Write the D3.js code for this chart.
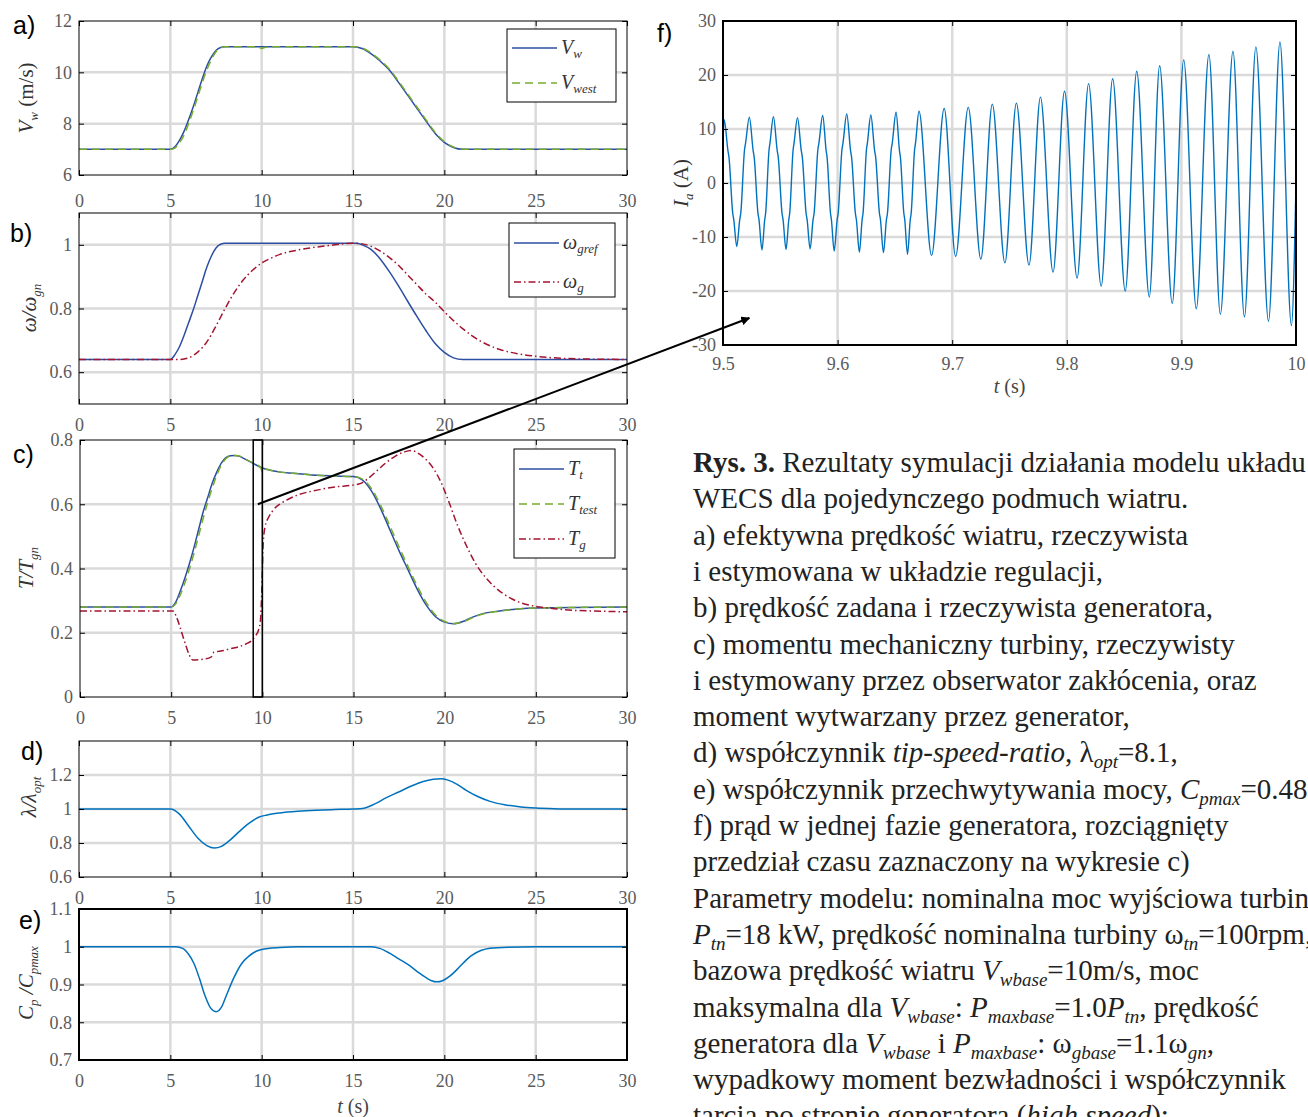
<!DOCTYPE html>
<html>
<head>
<meta charset="utf-8">
<script src="https://d3js.org/d3.v7.min.js"></script>
<style>
  body { margin: 0; background: #fff; }
  svg { display: block; }
</style>
</head>
<body>
<div id="chart"></div>
<script>
// ---- data ----
var timeTicks = [0, 5, 10, 15, 20, 25, 30];
var windTicks = [6, 8, 10, 12];
var speedTicks = [0.6, 0.8, 1];
var torqueTicks = [0, 0.2, 0.4, 0.6, 0.8];
var tsrTicks = [0.6, 0.8, 1, 1.2];
var cpTicks = [0.7, 0.8, 0.9, 1, 1.1];
var zoomTimeTicks = [9.5, 9.6, 9.7, 9.8, 9.9, 10];
var currentTicks = [-30, -20, -10, 0, 10, 20, 30];

// a) wind speed [t, m/s]
var windReal = [[0,7],[5,7],[5.25,7.1],[5.5,7.35],[5.75,7.7],[6,8.15],[6.25,8.65],[6.5,9.2],[6.75,9.75],[7,10.25],[7.25,10.6],[7.5,10.85],[7.75,10.97],[8,11],[15,11],[15.5,10.93],[16,10.72],[16.5,10.43],[17,10.08],[17.5,9.6],[18,9.1],[18.5,8.6],[19,8.1],[19.5,7.62],[20,7.27],[20.5,7.07],[21,7],[30,7]];
var windEst = [[0,7],[5,7],[5.25,7.05],[5.5,7.25],[5.75,7.55],[6,8.0],[6.25,8.5],[6.5,9.05],[6.75,9.6],[7,10.1],[7.25,10.5],[7.5,10.8],[7.75,10.95],[8,11],[9.8,11],[10,10.93],[10.2,10.98],[10.5,11],[15,11],[15.5,10.95],[16,10.75],[16.5,10.47],[17,10.12],[17.5,9.65],[18,9.15],[18.5,8.65],[19,8.15],[19.5,7.66],[20,7.3],[20.5,7.09],[21,7.01],[21.5,7],[30,7]];

// b) generator speed / nominal
var speedRef = [[0,0.64],[5,0.64],[5.25,0.655],[5.5,0.68],[5.75,0.715],[6,0.755],[6.25,0.795],[6.5,0.84],[6.75,0.885],[7,0.93],[7.25,0.965],[7.5,0.99],[7.75,1.002],[8,1.005],[15.2,1.005],[15.5,1.0],[16,0.985],[16.5,0.955],[17,0.915],[17.5,0.87],[18,0.822],[18.5,0.775],[19,0.73],[19.5,0.69],[20,0.662],[20.5,0.645],[21,0.64],[30,0.64]];
var speedGen = [[0,0.64],[5.5,0.64],[6,0.645],[6.5,0.663],[7,0.695],[7.5,0.745],[8,0.8],[8.5,0.85],[9,0.89],[9.5,0.92],[10,0.943],[10.5,0.958],[11,0.97],[12,0.984],[13,0.993],[14,1.0],[15,1.005],[15.5,1.003],[16,0.995],[16.5,0.98],[17,0.96],[17.5,0.935],[18,0.905],[18.5,0.875],[19,0.845],[19.5,0.82],[20,0.79],[20.5,0.762],[21,0.737],[21.5,0.715],[22,0.697],[22.5,0.683],[23,0.672],[24,0.658],[25,0.65],[26,0.645],[28,0.641],[30,0.64]];

// c) torques / nominal
var torqueTurb = [[0,0.28],[5,0.28],[5.25,0.295],[5.5,0.33],[5.75,0.37],[6,0.415],[6.25,0.465],[6.5,0.52],[6.75,0.575],[7,0.62],[7.25,0.665],[7.5,0.7],[7.75,0.728],[8,0.745],[8.25,0.751],[8.5,0.752],[8.75,0.749],[9,0.742],[9.5,0.727],[10,0.713],[10.5,0.705],[11,0.7],[12,0.695],[13,0.69],[14,0.688],[15,0.686],[15.5,0.675],[16,0.64],[16.5,0.585],[17,0.52],[17.5,0.455],[18,0.395],[18.5,0.335],[19,0.285],[19.5,0.25],[20,0.233],[20.5,0.228],[21,0.235],[21.5,0.248],[22,0.258],[23,0.268],[24,0.274],[25,0.277],[30,0.28]];
var torqueEst = [[0,0.28],[5,0.28],[5.25,0.29],[5.5,0.318],[5.75,0.355],[6,0.398],[6.25,0.447],[6.5,0.5],[6.75,0.555],[7,0.605],[7.25,0.65],[7.5,0.69],[7.75,0.722],[8,0.742],[8.25,0.75],[8.5,0.752],[8.75,0.75],[9,0.743],[9.5,0.728],[9.9,0.715],[10,0.7],[10.15,0.71],[10.5,0.705],[11,0.7],[12,0.695],[13,0.69],[14,0.688],[15,0.686],[15.5,0.678],[16,0.648],[16.5,0.595],[17,0.532],[17.5,0.467],[18,0.405],[18.5,0.345],[19,0.293],[19.5,0.255],[20,0.235],[20.5,0.229],[21,0.234],[21.5,0.246],[22,0.257],[23,0.267],[24,0.274],[25,0.277],[30,0.28]];
var torqueGen = [[0,0.268],[5.1,0.268],[5.3,0.248],[5.5,0.215],[5.75,0.17],[6,0.13],[6.2,0.115],[6.5,0.116],[6.8,0.118],[7.1,0.122],[7.25,0.128],[7.35,0.14],[7.6,0.142],[7.9,0.145],[8.2,0.15],[8.5,0.153],[8.8,0.158],[9.1,0.165],[9.4,0.175],[9.6,0.188],[9.8,0.21],[9.9,0.24],[9.97,0.33],[10.05,0.48],[10.15,0.53],[10.35,0.56],[10.6,0.582],[11,0.602],[11.5,0.618],[12,0.63],[13,0.644],[14,0.654],[15,0.66],[15.4,0.665],[15.8,0.68],[16.3,0.705],[16.8,0.73],[17.3,0.75],[17.8,0.763],[18.2,0.767],[18.6,0.757],[19,0.738],[19.4,0.71],[19.8,0.668],[20.2,0.612],[20.7,0.535],[21.2,0.47],[21.7,0.415],[22.2,0.375],[22.7,0.345],[23.2,0.322],[23.7,0.305],[24.2,0.293],[25,0.282],[26,0.275],[27,0.27],[28,0.268],[30,0.265]];

// d) tip speed ratio / optimum
var tsrRatio = [[0,1],[5,1],[5.5,0.97],[6,0.9],[6.5,0.83],[7,0.785],[7.4,0.77],[7.8,0.78],[8.3,0.82],[8.8,0.87],[9.3,0.915],[9.8,0.95],[10.3,0.965],[11,0.977],[12,0.987],[13,0.993],[14,0.997],[15,1.0],[15.6,1.005],[16.2,1.03],[16.8,1.065],[17.5,1.1],[18.2,1.135],[18.8,1.16],[19.4,1.175],[19.8,1.178],[20.2,1.17],[20.7,1.145],[21.2,1.11],[21.8,1.075],[22.5,1.045],[23.3,1.025],[24.2,1.012],[25,1.006],[26,1.002],[27,1],[30,1]];

// e) power coefficient / max
var cpRatio = [[0,1],[5.3,1],[5.7,0.995],[6,0.98],[6.3,0.955],[6.6,0.915],[6.9,0.87],[7.2,0.838],[7.5,0.828],[7.8,0.84],[8.1,0.875],[8.5,0.92],[8.9,0.955],[9.3,0.975],[9.7,0.988],[10,0.993],[11,0.998],[12,1],[16,1],[16.5,0.995],[17,0.983],[17.5,0.968],[18,0.953],[18.5,0.935],[19,0.918],[19.3,0.91],[19.6,0.907],[19.9,0.91],[20.3,0.922],[20.7,0.94],[21.1,0.96],[21.5,0.977],[22,0.99],[22.5,0.996],[23.5,0.999],[25,1],[30,1]];

// f) phase current [t, A]: extremes of each half period, plus the shoulders seen on the first edges
var phaseCurrent = [
  [9.5,7.5],[9.501,11.7],
  [9.5043,6.0],[9.5052,4.8],[9.5085,-5.6],[9.5094,-6.8],[9.512,-11.8],
  [9.5146,-6.8],[9.5155,-5.6],[9.5188,6.2],[9.5197,7.4],[9.523,12.2],
  [9.5263,6.0],[9.5272,4.8],[9.5305,-5.6],[9.5314,-6.8],[9.534,-12.4],
  [9.5364,-6.8],[9.5372,-5.6],[9.5402,6.2],[9.541,7.4],[9.544,12.3],
  [9.5473,6.0],[9.5482,4.8],[9.5515,-5.6],[9.5524,-6.8],[9.555,-12.3],
  [9.5574,-6.8],[9.5582,-5.6],[9.5612,6.2],[9.562,7.4],[9.565,12.1],
  [9.5683,6.0],[9.5692,4.8],[9.5725,-5.6],[9.5734,-6.8],[9.576,-12.2],
  [9.5786,-6.8],[9.5795,-5.6],[9.5828,6.2],[9.5837,7.4],[9.587,12.5],
  [9.59,6.0],[9.5908,4.8],[9.5938,-5.6],[9.5946,-6.8],[9.597,-12.6],
  [9.5996,-6.8],[9.6005,-5.6],[9.6038,6.2],[9.6047,7.4],[9.608,12.8],
  [9.6113,6.0],[9.6122,4.8],[9.6155,-5.6],[9.6164,-6.8],[9.619,-12.8],
  [9.6214,-6.8],[9.6222,-5.6],[9.6252,6.2],[9.626,7.4],[9.629,12.6],
  [9.6323,6.0],[9.6332,4.8],[9.6365,-5.6],[9.6374,-6.8],[9.64,-12.9],
  [9.6426,-6.8],[9.6435,-5.6],[9.6468,6.2],[9.6477,7.4],[9.651,13.1],
  [9.654,6.0],[9.6548,4.8],[9.6578,-5.6],[9.6586,-6.8],[9.661,-13.2],
  [9.6634,-6.8],[9.6642,-5.6],[9.6672,6.2],[9.668,7.4],[9.671,13.3],
  [9.682,-13.4],[9.693,13.8],[9.703,-13.6],[9.714,14.0],[9.725,-14.1],[9.735,14.6],[9.746,-14.8],[9.756,14.8],[9.767,-15.2],[9.777,15.9],[9.788,-16.5],[9.798,17.0],[9.809,-17.6],[9.819,18.4],[9.830,-19.1],[9.840,19.3],[9.851,-20.0],[9.861,20.7],[9.872,-21.1],[9.881,21.7],[9.892,-22.3],[9.902,22.8],[9.913,-23.3],[9.924,23.8],[9.934,-24.3],[9.945,24.4],[9.955,-24.8],[9.965,25.2],[9.976,-25.6],[9.986,26.1],[9.996,-26.4],[10,0]
];

var captionLines = [
  [['Rys. 3.','b'],[' Rezultaty symulacji działania modelu układu','']],
  [['WECS dla pojedynczego podmuch wiatru.','']],
  [['a) efektywna prędkość wiatru, rzeczywista','']],
  [['i estymowana w układzie regulacji,','']],
  [['b) prędkość zadana i rzeczywista generatora,','']],
  [['c) momentu mechaniczny turbiny, rzeczywisty','']],
  [['i estymowany przez obserwator zakłócenia, oraz','']],
  [['moment wytwarzany przez generator,','']],
  [['d) współczynnik ',''],['tip-speed-ratio','i'],[', λ',''],['opt','is'],['=8.1,','']],
  [['e) współczynnik przechwytywania mocy, ',''],['C','i'],['pmax','is'],['=0.48','']],
  [['f) prąd w jednej fazie generatora, rozciągnięty','']],
  [['przedział czasu zaznaczony na wykresie c)','']],
  [['Parametry modelu: nominalna moc wyjściowa turbiny','']],
  [['P','i'],['tn','is'],['=18 kW, prędkość nominalna turbiny ω',''],['tn','is'],['=100rpm,','']],
  [['bazowa prędkość wiatru ',''],['V','i'],['wbase','is'],['=10m/s, moc','']],
  [['maksymalna dla ',''],['V','i'],['wbase','is'],[': ',''],['P','i'],['maxbase','is'],['=1.0',''],['P','i'],['tn','is'],[', prędkość','']],
  [['generatora dla ',''],['V','i'],['wbase','is'],[' i ',''],['P','i'],['maxbase','is'],[': ω',''],['gbase','is'],['=1.1ω',''],['gn','is'],[',','']],
  [['wypadkowy moment bezwładności i współczynnik','']],
  [['tarcia po stronie generatora (',''],['high speed','i'],['):','']]
];

// ---- drawing ----
var serif = '"Liberation Serif", "Times New Roman", serif';
var sans = '"Liberation Sans", Arial, sans-serif';
var darkBlue = '#2b4ea3', green = '#77ac30', red = '#a2142f', lineBlue = '#0072bd';
var gridColor = '#dadada';

var svg = d3.select('#chart').append('svg')
  .attr('width', 1308)
  .attr('height', 1117);

var defs = svg.append('defs');
defs.append('marker')
  .attr('id', 'arrow')
  .attr('viewBox', '0 0 10 10')
  .attr('refX', 9).attr('refY', 5)
  .attr('markerWidth', 9).attr('markerHeight', 9)
  .attr('markerUnits', 'userSpaceOnUse')
  .attr('orient', 'auto')
  .append('path').attr('d', 'M0,0 L10,5 L0,10 z').attr('fill', '#000');

var clipCount = 0;

// rich text: segments are [text, style], style '' | 'b' | 'i' | 's' | 'is'
function richText(sel, segs, size) {
  segs.forEach(function (s) {
    var st = s[1];
    var t = sel.append('tspan').text(s[0]);
    if (st.indexOf('i') >= 0) t.attr('font-style', 'italic');
    if (st === 'b') t.attr('font-weight', 'bold');
    if (st.indexOf('s') >= 0) {
      t.attr('font-size', Math.round(size * 0.64))
        .attr('baseline-shift', -Math.round(size * 0.22));
    }
  });
}

function fmt(d) { return String(d); }

function drawPanel(p) {
  var b = p.box;
  var x = d3.scaleLinear().domain(p.xDomain).range([b.left, b.right]);
  var y = d3.scaleLinear().domain(p.yDomain).range([b.bottom, b.top]);
  var g = svg.append('g');

  // grid
  g.selectAll('line.gx')
    .data(p.xTicks.filter(function (t) { return t > p.xDomain[0] && t < p.xDomain[1]; }))
    .enter().append('line')
    .attr('x1', function (d) { return x(d); })
    .attr('x2', function (d) { return x(d); })
    .attr('y1', b.top).attr('y2', b.bottom)
    .attr('stroke', gridColor).attr('stroke-width', 2.5);
  g.selectAll('line.gy')
    .data(p.yTicks.filter(function (t) { return t > p.yDomain[0] && t < p.yDomain[1]; }))
    .enter().append('line')
    .attr('y1', function (d) { return y(d); })
    .attr('y2', function (d) { return y(d); })
    .attr('x1', b.left).attr('x2', b.right)
    .attr('stroke', gridColor).attr('stroke-width', 2.5);

  // series
  var id = 'clip' + (clipCount++);
  defs.append('clipPath').attr('id', id).append('rect')
    .attr('x', b.left).attr('y', b.top)
    .attr('width', b.right - b.left).attr('height', b.bottom - b.top);
  var line = d3.line()
    .x(function (d) { return x(d[0]); })
    .y(function (d) { return y(d[1]); })
    .curve(d3.curveMonotoneX);
  p.series.forEach(function (s) {
    g.append('path').datum(s.data)
      .attr('clip-path', 'url(#' + id + ')')
      .attr('d', line)
      .attr('fill', 'none')
      .attr('stroke', s.color)
      .attr('stroke-width', s.width || 1.5)
      .attr('stroke-dasharray', s.dash || null);
  });

  // axes, ticks pointing inward on all sides
  var axB = g.append('g').attr('transform', 'translate(0,' + b.bottom + ')')
    .call(d3.axisBottom(x).tickValues(p.xTicks).tickSize(-5).tickPadding(p.xPad).tickFormat(fmt));
  var axL = g.append('g').attr('transform', 'translate(' + b.left + ',0)')
    .call(d3.axisLeft(y).tickValues(p.yTicks).tickSize(-5).tickPadding(7).tickFormat(fmt));
  g.append('g').attr('transform', 'translate(0,' + b.top + ')')
    .call(d3.axisTop(x).tickValues(p.xTicks).tickSize(-5).tickFormat(''));
  g.append('g').attr('transform', 'translate(' + b.right + ',0)')
    .call(d3.axisRight(y).tickValues(p.yTicks).tickSize(-5).tickFormat(''));
  g.selectAll('.domain').remove();
  g.selectAll('.tick line').attr('stroke', '#000');
  [axB, axL].forEach(function (a) {
    a.selectAll('text').attr('font-family', serif).attr('font-size', 18).attr('fill', '#5a5a5a');
  });

  g.append('rect')
    .attr('x', b.left).attr('y', b.top)
    .attr('width', b.right - b.left).attr('height', b.bottom - b.top)
    .attr('fill', 'none').attr('stroke', '#000').attr('stroke-width', p.frame || 1);

  // y label
  var yl = g.append('text')
    .attr('transform', 'translate(' + p.yLabelPos[0] + ',' + p.yLabelPos[1] + ') rotate(-90)')
    .attr('text-anchor', 'middle')
    .attr('font-family', serif).attr('font-size', 21).attr('fill', '#333');
  richText(yl, p.yLabel, 21);

  // panel letter
  g.append('text').attr('x', p.letterPos[0]).attr('y', p.letterPos[1])
    .attr('font-family', sans).attr('font-size', 25).attr('fill', '#000')
    .text(p.letter);

  if (p.legend) drawLegend(g, p.legend);
  return { x: x, y: y };
}

function drawLegend(g, lg) {
  g.append('rect')
    .attr('x', lg.x).attr('y', lg.y).attr('width', lg.w).attr('height', lg.h)
    .attr('fill', '#fff').attr('stroke', '#000').attr('stroke-width', 1);
  lg.items.forEach(function (it, i) {
    var yy = lg.y + lg.first + i * lg.step;
    g.append('line')
      .attr('x1', lg.x + 5).attr('x2', lg.x + 50)
      .attr('y1', yy).attr('y2', yy)
      .attr('stroke', it.color).attr('stroke-width', 1.5)
      .attr('stroke-dasharray', it.dash || null);
    var t = g.append('text').attr('x', lg.x + 54).attr('y', yy + 6)
      .attr('font-family', serif).attr('font-size', 20).attr('fill', '#333');
    richText(t, it.label, 20);
  });
}

var xLabelTime = [['t','i'],[' (s)','']];
var dashA = '8,5', dashDot = '7,3,1.5,3';

drawPanel({
  box: { left: 79, right: 627, top: 21, bottom: 175 },
  xDomain: [0, 30], yDomain: [6, 12], xTicks: timeTicks, yTicks: windTicks, xPad: 19,
  series: [{ data: windReal, color: darkBlue }, { data: windEst, color: green, dash: dashA }],
  yLabel: [['V','i'],['w','is'],['  (m/s)','']], yLabelPos: [33, 98],
  letter: 'a)', letterPos: [13, 34],
  legend: { x: 507, y: 29, w: 109, h: 73, first: 19, step: 35,
    items: [{ color: darkBlue, label: [['V','i'],['w','is']] },
            { color: green, dash: dashA, label: [['V','i'],['west','is']] }] }
});

drawPanel({
  box: { left: 79, right: 627, top: 213, bottom: 404 },
  xDomain: [0, 30], yDomain: [0.5, 1.1], xTicks: timeTicks, yTicks: speedTicks, xPad: 14,
  series: [{ data: speedRef, color: darkBlue }, { data: speedGen, color: red, dash: dashDot }],
  yLabel: [['ω/ω','i'],['gn','is']], yLabelPos: [36, 308],
  letter: 'b)', letterPos: [10, 242],
  legend: { x: 509, y: 223, w: 106, h: 74, first: 20, step: 39,
    items: [{ color: darkBlue, label: [['ω','i'],['gref','is']] },
            { color: red, dash: dashDot, label: [['ω','i'],['g','is']] }] }
});

var pc = drawPanel({
  box: { left: 80, right: 627, top: 440, bottom: 697 },
  xDomain: [0, 30], yDomain: [0, 0.8], xTicks: timeTicks, yTicks: torqueTicks, xPad: 14,
  series: [{ data: torqueTurb, color: darkBlue }, { data: torqueEst, color: green, dash: dashA },
           { data: torqueGen, color: red, dash: dashDot }],
  yLabel: [['T/T','i'],['gn','is']], yLabelPos: [33, 568],
  letter: 'c)', letterPos: [13, 463],
  legend: { x: 514, y: 449, w: 101, h: 109, first: 20, step: 35,
    items: [{ color: darkBlue, label: [['T','i'],['t','is']] },
            { color: green, dash: dashA, label: [['T','i'],['test','is']] },
            { color: red, dash: dashDot, label: [['T','i'],['g','is']] }] }
});

drawPanel({
  box: { left: 79, right: 627, top: 741, bottom: 877 },
  xDomain: [0, 30], yDomain: [0.6, 1.4], xTicks: timeTicks, yTicks: tsrTicks, xPad: 14,
  series: [{ data: tsrRatio, color: lineBlue }],
  yLabel: [['λ/λ','i'],['opt','is']], yLabelPos: [36, 797],
  letter: 'd)', letterPos: [21, 760]
});

var pe = drawPanel({
  box: { left: 79, right: 627, top: 909, bottom: 1060 },
  xDomain: [0, 30], yDomain: [0.7, 1.1], xTicks: timeTicks, yTicks: cpTicks, xPad: 14, frame: 2,
  series: [{ data: cpRatio, color: lineBlue }],
  yLabel: [['C','i'],['p','is'],[' /C','i'],['pmax','is']], yLabelPos: [33, 983],
  letter: 'e)', letterPos: [19, 929]
});

var pf = drawPanel({
  box: { left: 723, right: 1296, top: 21, bottom: 345 },
  xDomain: [9.5, 10], yDomain: [-30, 30], xTicks: zoomTimeTicks, yTicks: currentTicks, xPad: 12, frame: 2,
  series: [{ data: phaseCurrent, color: lineBlue, width: 1.4 }],
  yLabel: [['I','i'],['a','is'],[' (A)','']], yLabelPos: [688, 183],
  letter: 'f)', letterPos: [657, 42]
});

// x axis titles
svg.append('text').attr('x', pe.x(15)).attr('y', 1113).attr('text-anchor', 'middle')
  .attr('font-family', serif).attr('font-size', 20).attr('fill', '#444')
  .call(function (t) { richText(t, xLabelTime, 20); });
svg.append('text').attr('x', pf.x(9.75)).attr('y', 393).attr('text-anchor', 'middle')
  .attr('font-family', serif).attr('font-size', 20).attr('fill', '#444')
  .call(function (t) { richText(t, xLabelTime, 20); });

// zoom window marked in c) and the arrow to f)
svg.append('rect')
  .attr('x', pc.x(9.5)).attr('y', pc.y(0.8))
  .attr('width', pc.x(10) - pc.x(9.5)).attr('height', pc.y(0) - pc.y(0.8))
  .attr('fill', 'none').attr('stroke', '#000').attr('stroke-width', 1.5);
svg.append('line')
  .attr('x1', pc.x(9.75)).attr('y1', pc.y(0.6))
  .attr('x2', pf.x(9.523)).attr('y2', pf.y(-25))
  .attr('stroke', '#000').attr('stroke-width', 2)
  .attr('marker-end', 'url(#arrow)');

// caption
var cap = svg.append('g').attr('font-family', serif).attr('font-size', 29).attr('fill', '#222');
captionLines.forEach(function (ln, i) {
  var t = cap.append('text').attr('x', 693).attr('y', 472 + i * 36.3);
  richText(t, ln, 29);
});
</script>
</body>
</html>
